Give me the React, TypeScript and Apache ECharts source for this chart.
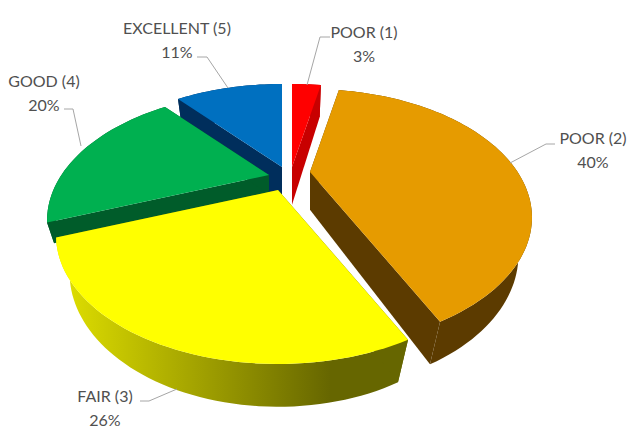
import React, { useEffect, useRef } from "react";
import * as echarts from "echarts";

const categories = ["POOR (1)", "POOR (2)", "FAIR (3)", "GOOD (4)", "EXCELLENT (5)"];
const values = [3, 40, 26, 20, 11];

// Layout and style, kept apart from the data
const topColors = ["#ff0000", "#e69b00", "#ffff00", "#00b050", "#0070c0"];
const wallColors = ["#c80000", "#5c3b00", "#666600", "#005c2a", "#002e5c"];
const apexes = [[292, 167], [310, 172], [278, 190], [269, 175], [282, 167]];
const depthScale = [1, 1, 1, 0.5, 1];
const labelPos = [[364, 19], [593, 125], [105, 383], [44, 68], [177, 15]];
const leaders = [
  [[330, 37], [320, 37], [307, 85]],
  [[555, 144], [546, 144], [510, 163]],
  [[140, 401], [149, 401], [177, 389]],
  [[64, 109], [73, 109], [81, 146]],
  [[197, 57], [207, 57], [228, 88]],
];
const drawOrder = [4, 0, 3, 1, 2];

// Projective view of the tilted disc
const B = 207.6, A = 112.4, K = 0.354, M = 0.057, D = 40;

function project(apex: number[], angle: number, r: number, depth: number) {
  const u = r * Math.sin(angle);
  const v = -r * Math.cos(angle);
  const w = 1 - K * v + M * depth;
  return [apex[0] + (B * u) / w, apex[1] + (A * v + D * depth) / w];
}

function arc(apex: number[], a0: number, a1: number, depth: number) {
  const n = Math.max(2, Math.ceil(Math.abs(a1 - a0) / 0.03));
  const pts: number[][] = [];
  for (let i = 0; i <= n; i++) pts.push(project(apex, a0 + ((a1 - a0) * i) / n, 1, depth));
  return pts;
}

export default function App() {
  const ref = useRef<HTMLDivElement>(null);
  useEffect(() => {
    const chart = echarts.init(ref.current!, undefined, { renderer: "svg" });
    const total = values.reduce((a, b) => a + b, 0);
    const starts = values.map((_, i) => values.slice(0, i).reduce((a, b) => a + b, 0));
    const renderItem = (_params: any, api: any) => {
      const idx = api.value(0);
      const a0 = (api.value(1) / total) * Math.PI * 2;
      const a1 = ((api.value(1) + api.value(2)) / total) * Math.PI * 2;
      const apex = apexes[idx];
      const depth = depthScale[idx];
      const wall: any =
        idx === 2
          ? {
              type: "linear", x: 0, y: 0, x2: 1, y2: 0,
              colorStops: [
                { offset: 0, color: "#e2e200" },
                { offset: 0.78, color: "#666600" },
                { offset: 1, color: "#666600" },
              ],
            }
          : wallColors[idx];
      const topArc = arc(apex, a0, a1, 0);
      const botArc = arc(apex, a0, a1, depth);
      const apexB = project(apex, 0, 0, depth);
      const poly = (points: number[][], fill: any) => ({
        type: "polygon",
        shape: { points },
        style: { fill, stroke: null },
      });
      return {
        type: "group",
        children: [
          poly([...topArc, ...botArc.slice().reverse()], wall),
          poly([apex, topArc[0], botArc[0], apexB], idx === 2 ? wallColors[2] : wall),
          poly([apex, topArc[topArc.length - 1], botArc[botArc.length - 1], apexB], idx === 2 ? wallColors[2] : wall),
          poly([apex, ...topArc], topColors[idx]),
        ],
      };
    };
    chart.setOption({
      animation: false,
      backgroundColor: "#ffffff",
      series: [
        {
          type: "custom",
          coordinateSystem: "none",
          renderItem,
          silent: true,
          data: drawOrder.map((i) => [i, starts[i], values[i]]),
        },
      ],
      graphic: [
        ...leaders.map((pts) => ({
          type: "polyline",
          z: 10,
          shape: { points: pts },
          style: { stroke: "#a6a6a6", lineWidth: 1, fill: null },
        })),
        ...categories.map((c, i) => ({
          type: "text",
          z: 11,
          x: labelPos[i][0],
          y: labelPos[i][1],
          style: {
            text: `${c}\n${values[i]}%`,
            fill: "#505050",
            font: '16px Lato',
            lineHeight: 24,
            align: "center",
            verticalAlign: "top",
          },
        })),
      ],
    });
    return () => chart.dispose();
  }, []);
  return <div ref={ref} style={{ position: "absolute", left: 0, top: 0, width: 628, height: 431 }} />;
}
